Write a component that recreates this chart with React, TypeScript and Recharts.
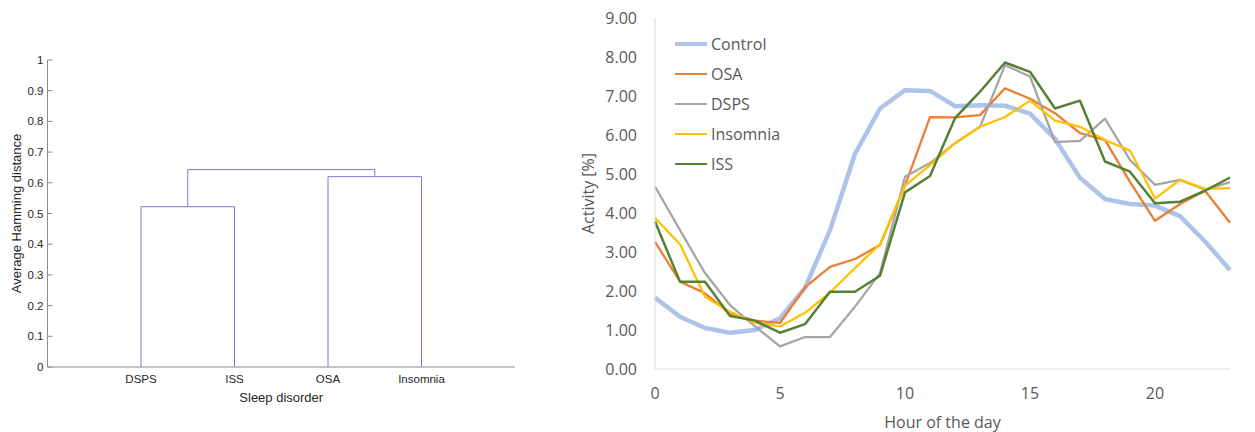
import React from "react";
import { LineChart, Line, XAxis, YAxis, Legend, Label } from "recharts";

// ---- left: dendrogram ----
const leaves = ["DSPS", "ISS", "OSA", "Insomnia"];
// each link joins two nodes (positions in leaf units) at a given distance
const linkLeft = [1, 3, 1.5];
const linkRight = [2, 4, 3.5];
const linkLeftBase = [0, 0, 0.522];
const linkRightBase = [0, 0, 0.62];
const linkHeight = [0.522, 0.62, 0.643];
const distTicks = [0, 0.1, 0.2, 0.3, 0.4, 0.5, 0.6, 0.7, 0.8, 0.9, 1];

// ---- right: hourly activity ----
const hours = [0, 1, 2, 3, 4, 5, 6, 7, 8, 9, 10, 11, 12, 13, 14, 15, 16, 17, 18, 19, 20, 21, 22, 23];
const control = [1.83, 1.34, 1.05, 0.93, 1.0, 1.3, 2.08, 3.56, 5.52, 6.68, 7.15, 7.13, 6.74, 6.76, 6.75, 6.55, 5.9, 4.9, 4.36, 4.23, 4.19, 3.92, 3.27, 2.54];
const osa = [3.26, 2.24, 1.94, 1.42, 1.24, 1.18, 2.09, 2.62, 2.82, 3.18, 4.7, 6.46, 6.45, 6.51, 7.2, 6.93, 6.56, 6.05, 5.87, 4.8, 3.8, 4.23, 4.57, 3.75];
const dsps = [4.68, 3.56, 2.46, 1.64, 1.09, 0.58, 0.82, 0.82, 1.6, 2.46, 4.93, 5.28, 5.79, 6.21, 7.79, 7.5, 5.82, 5.85, 6.42, 5.36, 4.72, 4.85, 4.6, 4.79];
const insomnia = [3.87, 3.2, 1.85, 1.47, 1.18, 1.09, 1.44, 1.96, 2.59, 3.2, 4.7, 5.23, 5.79, 6.21, 6.46, 6.88, 6.37, 6.21, 5.87, 5.6, 4.37, 4.85, 4.62, 4.64];
const iss = [3.78, 2.24, 2.24, 1.36, 1.24, 0.93, 1.15, 1.98, 1.98, 2.39, 4.53, 4.95, 6.43, 7.11, 7.86, 7.62, 6.68, 6.88, 5.32, 5.06, 4.25, 4.29, 4.57, 4.91];
const hourTicks = [0, 5, 10, 15, 20];
const activityTicks = [0, 1, 2, 3, 4, 5, 6, 7, 8, 9];

const series = [
  { key: "Control", values: control, color: "#adc3e8", width: 4.5 },
  { key: "OSA", values: osa, color: "#ed7d31", width: 2.25 },
  { key: "DSPS", values: dsps, color: "#a5a5a5", width: 2.25 },
  { key: "Insomnia", values: insomnia, color: "#ffc000", width: 2.25 },
  { key: "ISS", values: iss, color: "#548235", width: 2.5 },
];

const rows = hours.map((h, i) => {
  const r: Record<string, number> = { hour: h };
  series.forEach((s) => (r[s.key] = s.values[i]));
  return r;
});

const links = linkLeft.map((l, i) => [
  { x: l, y: linkLeftBase[i] },
  { x: l, y: linkHeight[i] },
  { x: linkRight[i], y: linkHeight[i] },
  { x: linkRight[i], y: linkRightBase[i] },
]);

const axisGray = "#8c8c8c";
const textDark = "#262626";
const excelText = "#595959";

function DistTick(props: any) {
  const { x, y, payload } = props;
  return (
    <g>
      <line x1={x} x2={x + 5} y1={y} y2={y} stroke={axisGray} />
      <text x={x - 4} y={y} dy="0.35em" textAnchor="end" fontSize={11.5} fill={textDark}>
        {String(Math.round(payload.value * 10) / 10)}
      </text>
    </g>
  );
}

function ActivityLegend() {
  return (
    <div style={{ fontFamily: "'Open Sans', sans-serif", fontSize: 16, color: excelText }}>
      {series.map((s) => (
        <div key={s.key} style={{ height: 30, display: "flex", alignItems: "center" }}>
          <div style={{ width: 32, height: s.width, background: s.color, marginRight: 4 }} />
          <span>{s.key}</span>
        </div>
      ))}
    </div>
  );
}

export default function App() {
  return (
    <div style={{ position: "absolute", left: 0, top: 0, width: 1255, height: 432, background: "#fff" }}>
      <div style={{ position: "absolute", left: 0, top: 0, fontFamily: "'Liberation Sans', Arial, sans-serif" }}>
        <LineChart width={540} height={432} margin={{ top: 60, right: 25, bottom: 25, left: 0 }}>
          <XAxis
            type="number"
            dataKey="x"
            domain={[0, 5]}
            ticks={[1, 2, 3, 4]}
            tickFormatter={(v: number) => leaves[v - 1]}
            interval={0}
            height={40}
            stroke={axisGray}
            tickLine={false}
            tickSize={0}
            tickMargin={8}
            tick={{ fontSize: 11.5, fill: textDark }}
          >
            <Label
              content={({ viewBox }: any) => (
                <text x={viewBox.x + viewBox.width / 2} y={viewBox.y + 30} dy="0.35em" textAnchor="middle" fontSize={13} fill={textDark}>
                  Sleep disorder
                </text>
              )}
            />
          </XAxis>
          <YAxis
            type="number"
            domain={[0, 1]}
            ticks={distTicks}
            interval={0}
            width={47.5}
            stroke={axisGray}
            tickLine={false}
            tickSize={0}
            tickMargin={0}
            tick={<DistTick />}
          >
            <Label
              content={({ viewBox }: any) => {
                const cx = viewBox.x + 16;
                const cy = viewBox.y + viewBox.height / 2;
                return (
                  <text x={cx} y={cy} dy="0.35em" textAnchor="middle" fontSize={13} fill={textDark} transform={`rotate(-90 ${cx} ${cy})`}>
                    Average Hamming distance
                  </text>
                );
              }}
            />
          </YAxis>
          {links.map((pts, i) => (
            <Line
              key={i}
              data={pts}
              dataKey="y"
              type="linear"
              stroke="#7878d2"
              strokeWidth={1}
              dot={false}
              activeDot={false}
              isAnimationActive={false}
            />
          ))}
        </LineChart>
      </div>

      <div style={{ position: "absolute", left: 560, top: 0, fontFamily: "'Open Sans', sans-serif" }}>
        <LineChart width={695} height={432} data={rows} margin={{ top: 18, right: 25, bottom: 8, left: 0 }}>
          <XAxis
            type="number"
            dataKey="hour"
            domain={[0, 23]}
            ticks={hourTicks}
            interval={0}
            height={55}
            stroke="#d9d9d9"
            tickLine={false}
            tickSize={0}
            tickMargin={19}
            tick={{ fontSize: 16, fill: excelText }}
          >
            <Label
              content={({ viewBox }: any) => (
                <text x={viewBox.x + viewBox.width / 2} y={viewBox.y + 53} dy="0.35em" textAnchor="middle" fontSize={16} fill={excelText}>
                  Hour of the day
                </text>
              )}
            />
          </XAxis>
          <YAxis
            type="number"
            domain={[0, 9]}
            ticks={activityTicks}
            interval={0}
            width={95}
            stroke="#d9d9d9"
            tickLine={false}
            tickSize={0}
            tickMargin={18}
            tickFormatter={(v: number) => v.toFixed(2)}
            tick={{ fontSize: 16, fill: excelText }}
          >
            <Label
              content={({ viewBox }: any) => {
                const cx = viewBox.x + 28;
                const cy = viewBox.y + viewBox.height / 2;
                return (
                  <text x={cx} y={cy} dy="0.35em" textAnchor="middle" fontSize={16} fill={excelText} transform={`rotate(-90 ${cx} ${cy})`}>
                    Activity [%]
                  </text>
                );
              }}
            />
          </YAxis>
          <Legend
            layout="vertical"
            align="center"
            verticalAlign="middle"
            wrapperStyle={{ left: 115, top: 29, width: "auto" }}
            content={() => <ActivityLegend />}
          />
          {series.map((s) => (
            <Line
              key={s.key}
              dataKey={s.key}
              type="linear"
              stroke={s.color}
              strokeWidth={s.width}
              strokeLinejoin="round"
              dot={false}
              activeDot={false}
              isAnimationActive={false}
            />
          ))}
        </LineChart>
      </div>
    </div>
  );
}
